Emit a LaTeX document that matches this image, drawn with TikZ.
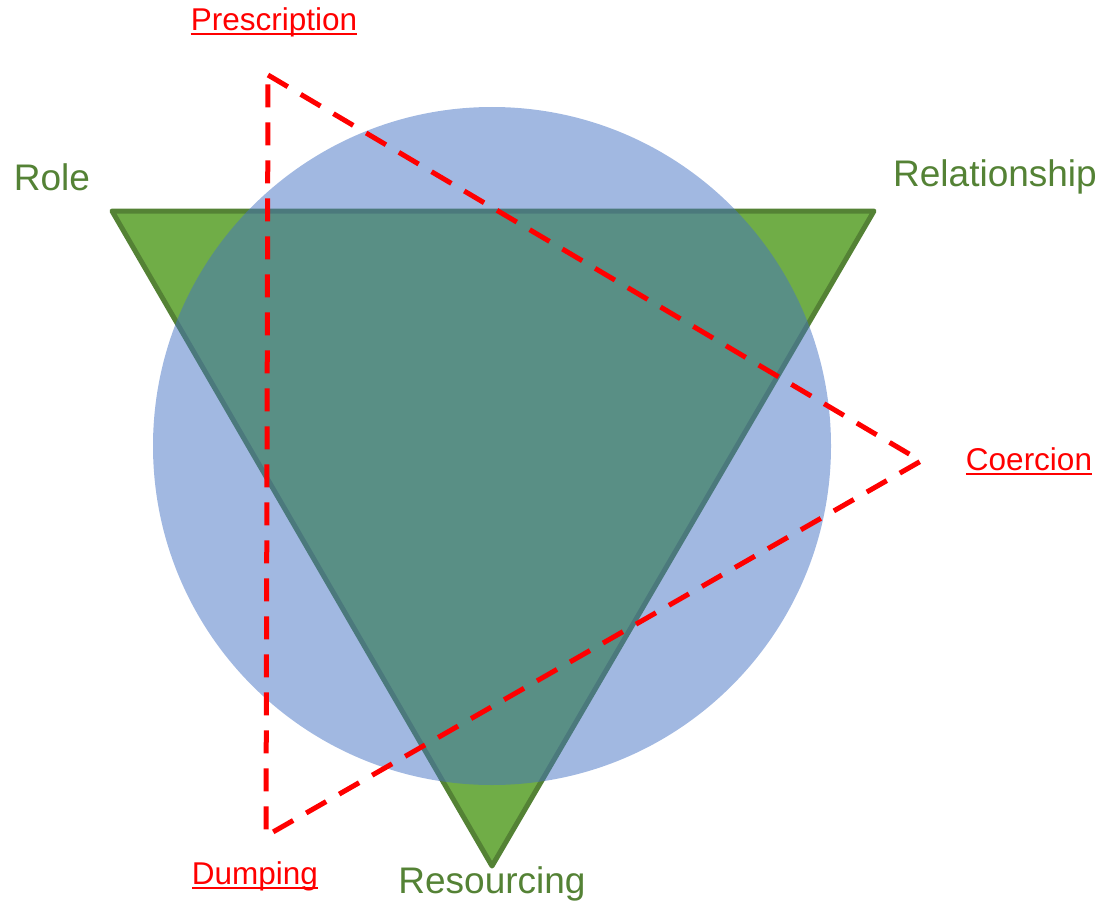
\documentclass[tikz,border=0pt]{standalone}
\usepackage{fontspec}
\setmainfont{Liberation Sans}
\definecolor{tgreen}{HTML}{70AD47}
\definecolor{tdark}{HTML}{548235}
\definecolor{cblue}{HTML}{4472C4}
\begin{document}
\begin{tikzpicture}[x=1pt,y=-1pt,
  glabel/.style={text=tdark,font=\fontsize{37}{40}\selectfont,inner sep=0pt},
  rlabel/.style={text=red,font=\fontsize{31.5}{34}\selectfont,inner sep=0pt},
  uline/.style={red,line width=2pt},
  reddash/.style={red,line width=5pt,dash pattern=on 23pt off 15pt}]
\useasboundingbox (0,0) rectangle (1102,904);
\coordinate (gA) at (112,211);
\coordinate (gB) at (874,211);
\coordinate (gC) at (492,866);
\coordinate (rA) at (268,75);
\coordinate (rB) at (921,461);
\coordinate (rC) at (266,836);
\coordinate (cc) at (492,446);
\draw[fill=tgreen,draw=tdark,line width=5pt,line join=round] (gA) -- (gB) -- (gC) -- cycle;
\fill[cblue,opacity=0.5] (cc) circle[radius=339];
\draw[reddash] (rA) -- (rB) -- (rC) -- cycle;
\node[glabel] (role) at (52,177) {Role};
\node[glabel] (rel) at (995,177) {Relationship};
\node[glabel] (res) at (492,884) {Resourcing};
\node[rlabel,anchor=base] (pre) at (274,31) {Prescription};
\node[rlabel,anchor=base] (coe) at (1029,470) {Coercion};
\node[rlabel,anchor=base] (dum) at (255,884) {Dumping};
\foreach \n in {pre,coe,dum}{
  \draw[uline] ([yshift=-3.5pt]\n.base west) -- ([yshift=-3.5pt]\n.base east);
}
\end{tikzpicture}
\end{document}
